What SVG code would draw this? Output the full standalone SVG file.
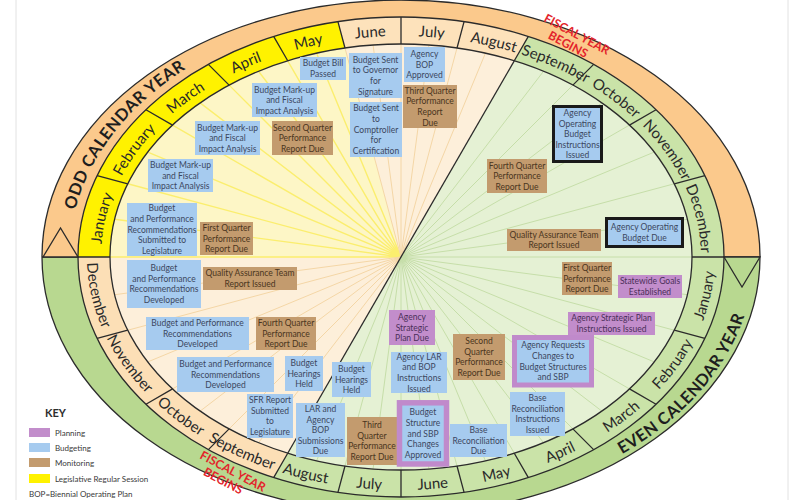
<svg xmlns="http://www.w3.org/2000/svg" width="800" height="500" viewBox="0 0 800 500">
<style>
.ln{stroke:#2b2b2b;stroke-width:1.3;fill:none}
.b{fill:#a6cbef}
.m{fill:#c39b6e}
.p{fill:#c28dcb}
.t{font-family:Lato,"Liberation Sans",sans-serif;font-size:8.5px;text-anchor:middle;fill:#3c4760}
.tm{fill:#4a3520}
.tp{fill:#4b2f5a}
.mo{font-family:Lato,"Liberation Sans",sans-serif;font-size:15px;fill:#2a2a2a;text-anchor:middle}
.cal{font-family:Lato,"Liberation Sans",sans-serif;font-size:16.5px;font-weight:bold;fill:#1e1e1e;text-anchor:middle;letter-spacing:0.5px}
.fy{font-family:Lato,"Liberation Sans",sans-serif;font-size:12px;font-weight:bold;fill:#e3242b;text-anchor:middle}
.key{font-family:Lato,"Liberation Sans",sans-serif;font-size:8px;fill:#3a3a3a}
.ry{stroke:#fbee6e;stroke-width:1.4}
.ro{stroke:#f4d6a6;stroke-width:1}
.rg{stroke:#c6dea9;stroke-width:1}
</style>
<defs>
<path id="tJan" d="M119.06,332.54 A300,221 0 0 1 164.88,120.67"/>
<path id="tFeb" d="M101,257 A300,221 0 0 1 223.07,79.07"/>
<path id="tMar" d="M119.06,181.46 A300,221 0 0 1 283.58,53.63"/>
<path id="tApr" d="M164.88,120.67 A300,221 0 0 1 342.90,40.19"/>
<path id="tMay" d="M223.07,79.07 A300,221 0 0 1 401,36"/>
<path id="tJun" d="M283.58,53.63 A300,221 0 0 1 459.10,40.19"/>
<path id="tJul" d="M342.90,40.19 A300,221 0 0 1 518.42,53.63"/>
<path id="tAug" d="M401,36 A300,221 0 0 1 578.93,79.07"/>
<path id="tSep" d="M459.10,40.19 A300,221 0 0 1 637.12,120.67"/>
<path id="tOct" d="M518.42,53.63 A300,221 0 0 1 682.94,181.46"/>
<path id="tNov" d="M578.93,79.07 A300,221 0 0 1 701,257"/>
<path id="tDec" d="M637.12,120.67 A300,221 0 0 1 682.94,332.54"/>
<path id="bDec" d="M105.67,177.87 A314,233 0 0 0 153.18,400.08"/>
<path id="bNov" d="M87,257 A314,233 0 0 0 213.89,444.11"/>
<path id="bOct" d="M105.67,336.13 A314,233 0 0 0 277.35,471.17"/>
<path id="bSep" d="M153.18,400.08 A314,233 0 0 0 339.77,485.53"/>
<path id="bAug" d="M213.89,444.11 A314,233 0 0 0 401,490"/>
<path id="bJul" d="M277.35,471.17 A314,233 0 0 0 462.23,485.53"/>
<path id="bJun" d="M339.77,485.53 A314,233 0 0 0 524.65,471.17"/>
<path id="bMay" d="M401,490 A314,233 0 0 0 588.11,444.11"/>
<path id="bApr" d="M462.23,485.53 A314,233 0 0 0 648.82,400.08"/>
<path id="bMar" d="M524.65,471.17 A314,233 0 0 0 696.33,336.13"/>
<path id="bFeb" d="M588.11,444.11 A314,233 0 0 0 715,257"/>
<path id="bJan" d="M648.82,400.08 A314,233 0 0 0 696.33,177.87"/>
<path id="pOdd" d="M102.78,365.54 A332,247 0 0 1 305.43,20.46"/>
<path id="pEven" d="M490.10,501.81 A353,253 0 0 0 719.19,147.44"/>
</defs>
<rect width="800" height="500" fill="#ffffff"/>
<line x1="16" y1="0" x2="16" y2="500" stroke="#e2e2e2" stroke-width="1"/>
<line x1="788" y1="0" x2="788" y2="500" stroke="#e2e2e2" stroke-width="1"/>

<g id="wheel">
<path d="M42,257 A359,257 0 0 1 760,257 Z" fill="#fbc98c"/>
<path d="M42,257 A359,257 0 0 0 760,257 Z" fill="#b8d890"/>
<path d="M78,257 A323,240 0 0 1 337.93,21.62 L344.99,47.98 A291,213 0 0 0 110,257 Z" fill="#fff200"/>
<path d="M337.93,21.62 A323,240 0 0 1 528.34,36.44 L514.28,60.80 A291,213 0 0 0 344.99,47.98 Z" fill="#fde2bb"/>
<path d="M528.34,36.44 A323,240 0 0 1 724,257 L692,257 A291,213 0 0 0 514.28,60.80 Z" fill="#cae3a8"/>
<path d="M724,257 A323,240 0 0 1 273.66,477.56 L287.72,453.20 A291,213 0 0 0 692,257 Z" fill="#cae3a8"/>
<path d="M273.66,477.56 A323,240 0 0 1 78,257 L110,257 A291,213 0 0 0 287.72,453.20 Z" fill="#fcdfb6"/>
<ellipse cx="401" cy="257" rx="291" ry="213" fill="#fdefda"/>
<path d="M401,257 L110,257 A291,213 0 0 1 344.99,47.98 Z" fill="#fdf6c6"/>
<path d="M401,257 L514.28,60.80 A291,213 0 0 1 287.72,453.20 Z" fill="#e5f1d4"/>
</g>

<g id="rays">
<path class="ry" d="M401,257 L110,257 M401,257 L114.60,219.29 M401,257 L127.74,183.78 M401,257 L147.74,152.09 M401,257 L172.52,125.09 M401,257 L200.14,102.87 M401,257 L229.12,85.12 M401,257 L258.50,71.28 M401,257 L287.72,60.80 M401,257 L316.57,53.16"/>
<path class="ro" d="M401,257 L344.99,47.98 M401,257 L373.09,44.98 M401,257 L401,44 M401,257 L428.91,44.98 M401,257 L457.01,47.98 M401,257 L485.43,53.16 M401,257 L258.50,442.72 M401,257 L229.12,428.88 M401,257 L200.14,411.13 M401,257 L172.52,388.91 M401,257 L147.74,361.91 M401,257 L127.74,330.22 M401,257 L114.60,294.71"/>
<path class="rg" d="M401,257 L543.50,71.28 M401,257 L572.88,85.12 M401,257 L601.86,102.87 M401,257 L629.48,125.09 M401,257 L654.26,152.09 M401,257 L674.26,183.78 M401,257 L687.40,219.29 M401,257 L692,257 M401,257 L687.40,294.71 M401,257 L674.26,330.22 M401,257 L654.26,361.91 M401,257 L629.48,388.91 M401,257 L601.86,411.13 M401,257 L572.88,428.88 M401,257 L543.50,442.72 M401,257 L514.28,453.20 M401,257 L485.43,460.84 M401,257 L457.01,466.02 M401,257 L428.91,469.02 M401,257 L401,470 M401,257 L373.09,469.02 M401,257 L344.99,466.02 M401,257 L316.57,460.84"/>
</g>

<g id="outlines">
<ellipse class="ln" cx="401" cy="257" rx="359" ry="257"/>
<ellipse class="ln" cx="401" cy="257" rx="323" ry="240"/>
<ellipse class="ln" cx="401" cy="257" rx="291" ry="213"/>
<path class="ln" d="M674.26,183.78 L704.85,175.58 M629.48,125.09 L656.05,109.74 M572.88,85.12 L593.64,64.36 M514.28,60.80 L528.34,36.44 M457.01,47.98 L464.07,21.62 M401,44 L401,17 M344.99,47.98 L337.93,21.62 M287.72,60.80 L273.66,36.44 M229.12,85.12 L208.36,64.36 M172.52,125.09 L145.95,109.74 M127.74,183.78 L97.15,175.58"/>
<path class="ln" d="M674.26,330.22 L704.85,338.42 M629.48,388.91 L656.05,404.26 M572.88,428.88 L593.64,449.64 M514.28,453.20 L528.34,477.56 M457.01,466.02 L464.07,492.38 M401,470 L401,497 M344.99,466.02 L337.93,492.38 M287.72,453.20 L273.66,477.56 M229.12,428.88 L208.36,449.64 M172.52,388.91 L145.95,404.26 M127.74,330.22 L97.15,338.42"/>
<path class="ln" d="M42,257 L110,257 M692,257 L760,257"/>
<path class="ln" d="M514.28,60.80 L287.72,453.20" stroke-width="1.6"/>
<path d="M43,257 L60.5,228 L78,257 Z" fill="#fbc98c" stroke="#2b2b2b" stroke-width="1.3"/>
<path d="M724,257 L742,287 L760,257 Z" fill="#b8d890" stroke="#2b2b2b" stroke-width="1.3"/>
</g>

<g id="months">
<text class="mo"><textPath href="#tJan" startOffset="50%">January</textPath></text>
<text class="mo"><textPath href="#tFeb" startOffset="50%">February</textPath></text>
<text class="mo"><textPath href="#tMar" startOffset="50%">March</textPath></text>
<text class="mo"><textPath href="#tApr" startOffset="50%">April</textPath></text>
<text class="mo"><textPath href="#tMay" startOffset="50%">May</textPath></text>
<text class="mo"><textPath href="#tJun" startOffset="50%">June</textPath></text>
<text class="mo"><textPath href="#tJul" startOffset="50%">July</textPath></text>
<text class="mo"><textPath href="#tAug" startOffset="50%">August</textPath></text>
<text class="mo"><textPath href="#tSep" startOffset="50%">September</textPath></text>
<text class="mo"><textPath href="#tOct" startOffset="50%">October</textPath></text>
<text class="mo"><textPath href="#tNov" startOffset="50%">November</textPath></text>
<text class="mo"><textPath href="#tDec" startOffset="50%">December</textPath></text>
<text class="mo"><textPath href="#bDec" startOffset="50%">December</textPath></text>
<text class="mo"><textPath href="#bNov" startOffset="50%">November</textPath></text>
<text class="mo"><textPath href="#bOct" startOffset="50%">October</textPath></text>
<text class="mo"><textPath href="#bSep" startOffset="50%">September</textPath></text>
<text class="mo"><textPath href="#bAug" startOffset="50%">August</textPath></text>
<text class="mo"><textPath href="#bJul" startOffset="50%">July</textPath></text>
<text class="mo"><textPath href="#bJun" startOffset="50%">June</textPath></text>
<text class="mo"><textPath href="#bMay" startOffset="50%">May</textPath></text>
<text class="mo"><textPath href="#bApr" startOffset="50%">April</textPath></text>
<text class="mo"><textPath href="#bMar" startOffset="50%">March</textPath></text>
<text class="mo"><textPath href="#bFeb" startOffset="50%">February</textPath></text>
<text class="mo"><textPath href="#bJan" startOffset="50%">January</textPath></text>
<text class="cal"><textPath href="#pOdd" startOffset="53.5%">ODD CALENDAR YEAR</textPath></text>
<text class="cal"><textPath href="#pEven" startOffset="46.5%">EVEN CALENDAR YEAR</textPath></text>
<g transform="translate(577,34) rotate(28)"><text class="fy" x="0" y="4.5">FISCAL YEAR</text><text class="fy" x="-3" y="17.5">BEGINS</text></g>
<g transform="translate(233,471) rotate(28)"><text class="fy" x="0" y="4.5">FISCAL YEAR</text><text class="fy" x="-4" y="17.5">BEGINS</text></g>
</g>

<g id="n1"><rect class="b" x="300" y="57" width="46" height="23"/><text class="t"><tspan x="323" y="66.3">Budget Bill</tspan><tspan x="323" y="76.9">Passed</tspan></text></g>
<g id="n2"><rect class="b" x="349" y="53" width="53" height="45"/><text class="t"><tspan x="375.5" y="62.7">Budget Sent</tspan><tspan x="375.5" y="73.3">to Governor</tspan><tspan x="375.5" y="83.9">for</tspan><tspan x="375.5" y="94.5">Signature</tspan></text></g>
<g id="n3"><rect class="b" x="350" y="102" width="52" height="55"/><text class="t"><tspan x="376" y="111.4">Budget Sent</tspan><tspan x="376" y="122">to</tspan><tspan x="376" y="132.6">Comptroller</tspan><tspan x="376" y="143.2">for</tspan><tspan x="376" y="153.8">Certification</tspan></text></g>
<g id="n4"><rect class="b" x="404" y="47" width="41" height="35"/><text class="t"><tspan x="424.5" y="57">Agency</tspan><tspan x="424.5" y="67.6">BOP</tspan><tspan x="424.5" y="78.2">Approved</tspan></text></g>
<g id="n5"><rect class="m" x="403" y="85" width="54" height="43"/><text class="t tm"><tspan x="430" y="93.7">Third Quarter</tspan><tspan x="430" y="104.3">Performance</tspan><tspan x="430" y="114.9">Report</tspan><tspan x="430" y="125.5">Due</tspan></text></g>
<g id="n6"><rect class="b" x="252" y="83" width="65" height="34"/><text class="t"><tspan x="284.5" y="92.5">Budget Mark-up</tspan><tspan x="284.5" y="103.1">and Fiscal</tspan><tspan x="284.5" y="113.7">Impact Analysis</tspan></text></g>
<g id="n7"><rect class="m" x="272" y="121" width="61" height="34"/><text class="t tm"><tspan x="302.5" y="130.5">Second Quarter</tspan><tspan x="302.5" y="141.1">Performance</tspan><tspan x="302.5" y="151.7">Report Due</tspan></text></g>
<g id="n8"><rect class="b" x="195" y="121" width="65" height="34"/><text class="t"><tspan x="227.5" y="130.5">Budget Mark-up</tspan><tspan x="227.5" y="141.1">and Fiscal</tspan><tspan x="227.5" y="151.7">Impact Analysis</tspan></text></g>
<g id="n9"><rect class="b" x="148" y="159" width="65" height="33"/><text class="t"><tspan x="180.5" y="168">Budget Mark-up</tspan><tspan x="180.5" y="178.6">and Fiscal</tspan><tspan x="180.5" y="189.2">Impact Analysis</tspan></text></g>
<g id="n10"><rect class="b" x="127" y="203" width="70" height="53"/><text class="t"><tspan x="162" y="211.4">Budget</tspan><tspan x="162" y="222">and Performance</tspan><tspan x="162" y="232.6">Recommendations</tspan><tspan x="162" y="243.2">Submitted to</tspan><tspan x="162" y="253.8">Legislature</tspan></text></g>
<g id="n11"><rect class="m" x="200" y="222" width="53" height="33"/><text class="t tm"><tspan x="226.5" y="231">First Quarter</tspan><tspan x="226.5" y="241.6">Performance</tspan><tspan x="226.5" y="252.2">Report Due</tspan></text></g>
<g id="n12"><rect class="b" x="127" y="260" width="74" height="48"/><text class="t"><tspan x="164" y="271.2">Budget</tspan><tspan x="164" y="281.8">and Performance</tspan><tspan x="164" y="292.4">Recommendations</tspan><tspan x="164" y="303">Developed</tspan></text></g>
<g id="n13"><rect class="m" x="203" y="267" width="94" height="23"/><text class="t tm"><tspan x="250" y="276.3">Quality Assurance Team</tspan><tspan x="250" y="286.9">Report Issued</tspan></text></g>
<g id="n14"><rect class="b" x="146" y="317" width="103" height="33"/><text class="t"><tspan x="197.5" y="326">Budget and Performance</tspan><tspan x="197.5" y="336.6">Recommendations</tspan><tspan x="197.5" y="347.2">Developed</tspan></text></g>
<g id="n15"><rect class="m" x="256" y="317" width="60" height="33"/><text class="t tm"><tspan x="286" y="326">Fourth Quarter</tspan><tspan x="286" y="336.6">Performance</tspan><tspan x="286" y="347.2">Report Due</tspan></text></g>
<g id="n16"><rect class="b" x="177" y="357" width="97" height="35"/><text class="t"><tspan x="225.5" y="367">Budget and Performance</tspan><tspan x="225.5" y="377.6">Recommendations</tspan><tspan x="225.5" y="388.2">Developed</tspan></text></g>
<g id="n17"><rect class="b" x="285" y="356" width="38" height="35"/><text class="t"><tspan x="304" y="366">Budget</tspan><tspan x="304" y="376.6">Hearings</tspan><tspan x="304" y="387.2">Held</tspan></text></g>
<g id="n18"><rect class="b" x="247" y="394" width="46" height="44"/><text class="t"><tspan x="270" y="403.2">SFR Report</tspan><tspan x="270" y="413.8">Submitted</tspan><tspan x="270" y="424.4">to</tspan><tspan x="270" y="435">Legislature</tspan></text></g>
<g id="n19"><rect class="b" x="296" y="403" width="49" height="54"/><text class="t"><tspan x="320.5" y="411.9">LAR and</tspan><tspan x="320.5" y="422.5">Agency</tspan><tspan x="320.5" y="433.1">BOP</tspan><tspan x="320.5" y="443.7">Submissions</tspan><tspan x="320.5" y="454.3">Due</tspan></text></g>
<g id="n20"><rect class="b" x="332" y="362" width="39" height="35"/><text class="t"><tspan x="351.5" y="372">Budget</tspan><tspan x="351.5" y="382.6">Hearings</tspan><tspan x="351.5" y="393.2">Held</tspan></text></g>
<g id="n21"><rect class="m" x="347" y="417" width="50" height="48"/><text class="t tm"><tspan x="372" y="428.2">Third</tspan><tspan x="372" y="438.8">Quarter</tspan><tspan x="372" y="449.4">Performance</tspan><tspan x="372" y="460">Report Due</tspan></text></g>
<g id="n22"><rect class="b" x="553.5" y="106.5" width="48" height="55" stroke="#1a1a1a" stroke-width="3"/><text class="t"><tspan x="577.5" y="115.9">Agency</tspan><tspan x="577.5" y="126.5">Operating</tspan><tspan x="577.5" y="137.1">Budget</tspan><tspan x="577.5" y="147.7">Instructions</tspan><tspan x="577.5" y="158.3">Issued</tspan></text></g>
<g id="n23"><rect class="m" x="487" y="159" width="60" height="34"/><text class="t tm"><tspan x="517" y="168.5">Fourth Quarter</tspan><tspan x="517" y="179.1">Performance</tspan><tspan x="517" y="189.7">Report Due</tspan></text></g>
<g id="n24"><rect class="b" x="606.5" y="218.5" width="76" height="28" stroke="#1a1a1a" stroke-width="3"/><text class="t"><tspan x="644.5" y="230.3">Agency Operating</tspan><tspan x="644.5" y="240.9">Budget Due</tspan></text></g>
<g id="n25"><rect class="m" x="507" y="229" width="94" height="22"/><text class="t tm"><tspan x="554" y="237.8">Quality Assurance Team</tspan><tspan x="554" y="248.4">Report Issued</tspan></text></g>
<g id="n26"><rect class="m" x="562" y="262" width="50" height="33"/><text class="t tm"><tspan x="587" y="271">First Quarter</tspan><tspan x="587" y="281.6">Performance</tspan><tspan x="587" y="292.2">Report Due</tspan></text></g>
<g id="n27"><rect class="p" x="618" y="275" width="64" height="23"/><text class="t tp"><tspan x="650" y="284.3">Statewide Goals</tspan><tspan x="650" y="294.9">Established</tspan></text></g>
<g id="n28"><rect class="p" x="568" y="312" width="87" height="23"/><text class="t tp"><tspan x="611.5" y="321.3">Agency Strategic Plan</tspan><tspan x="611.5" y="331.9">Instructions Issued</tspan></text></g>
<g id="n29"><rect class="b" x="514.5" y="337.5" width="77" height="47.5" stroke="#c08acb" stroke-width="5"/><text class="t"><tspan x="553" y="348.4">Agency Requests</tspan><tspan x="553" y="359">Changes to</tspan><tspan x="553" y="369.6">Budget Structures</tspan><tspan x="553" y="380.2">and SBP</tspan></text></g>
<g id="n30"><rect class="m" x="453" y="334" width="52" height="46"/><text class="t tm"><tspan x="479" y="344.2">Second</tspan><tspan x="479" y="354.8">Quarter</tspan><tspan x="479" y="365.4">Performance</tspan><tspan x="479" y="376">Report Due</tspan></text></g>
<g id="n31"><rect class="p" x="389" y="310" width="46" height="35"/><text class="t tp"><tspan x="412" y="320">Agency</tspan><tspan x="412" y="330.6">Strategic</tspan><tspan x="412" y="341.2">Plan Due</tspan></text></g>
<g id="n32"><rect class="b" x="391" y="352" width="56" height="41"/><text class="t"><tspan x="419" y="359.7">Agency LAR</tspan><tspan x="419" y="370.3">and BOP</tspan><tspan x="419" y="380.9">Instructions</tspan><tspan x="419" y="391.5">Issued</tspan></text></g>
<g id="n33"><rect class="b" x="399.5" y="402.8" width="47" height="61.2" stroke="#c08acb" stroke-width="5.5"/><text class="t"><tspan x="423" y="415.3">Budget</tspan><tspan x="423" y="425.9">Structure</tspan><tspan x="423" y="436.5">and SBP</tspan><tspan x="423" y="447.1">Changes</tspan><tspan x="423" y="457.7">Approved</tspan></text></g>
<g id="n34"><rect class="b" x="450" y="424" width="57" height="33"/><text class="t"><tspan x="478.5" y="433">Base</tspan><tspan x="478.5" y="443.6">Reconciliation</tspan><tspan x="478.5" y="454.2">Due</tspan></text></g>
<g id="n35"><rect class="b" x="510" y="392" width="55" height="44"/><text class="t"><tspan x="537.5" y="401.2">Base</tspan><tspan x="537.5" y="411.8">Reconciliation</tspan><tspan x="537.5" y="422.4">Instructions</tspan><tspan x="537.5" y="433">Issued</tspan></text></g>

<g id="legend">
<text x="45" y="417" font-family="Lato,'Liberation Sans',sans-serif" font-size="11" font-weight="bold" fill="#2e2e2e">KEY</text>
<rect class="p" x="29" y="428" width="21" height="9"/>
<rect class="b" x="29" y="443" width="21" height="9"/>
<rect class="m" x="29" y="458" width="21" height="9"/>
<rect x="29" y="474" width="21" height="9" fill="#fff200"/>
<text class="key" x="55" y="436">Planning</text>
<text class="key" x="55" y="451">Budgeting</text>
<text class="key" x="55" y="466">Monitoring</text>
<text class="key" x="55" y="482">Legislative Regular Session</text>
<text class="key" x="29" y="497">BOP=Biennial Operating Plan</text>
</g>
</svg>
